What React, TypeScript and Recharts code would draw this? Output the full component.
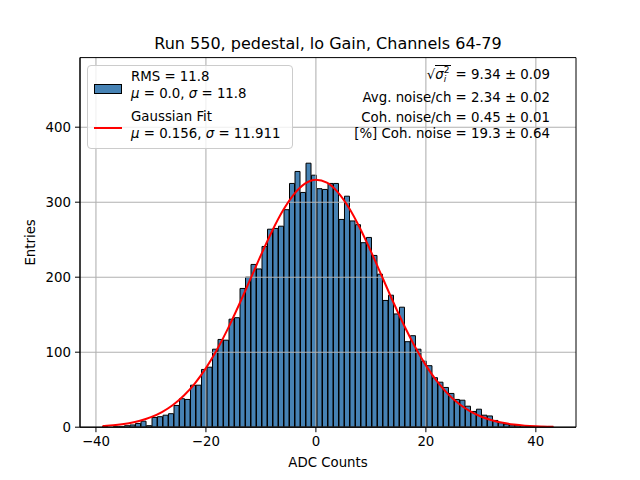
import React from 'react';
import { ComposedChart, Bar, Line, XAxis, YAxis, ReferenceLine, ReferenceArea, Label } from 'recharts';

// histogram: 1-count-wide bins starting at the data minimum
const BIN_START = -38.8;
const BIN_WIDTH = 1;
const counts = [
  1, 0, 1, 1, 2, 3, 5, 8, 2, 13,
  14, 16, 18, 29, 38, 37, 56, 56, 77, 80,
  104, 117, 116, 144, 146, 185, 200, 217, 211, 241,
  264, 265, 268, 290, 325, 341, 313, 352, 336, 318,
  317, 325, 325, 277, 308, 275, 270, 246, 253, 229,
  204, 169, 176, 151, 160, 114, 122, 104, 88, 82,
  66, 60, 53, 45, 37, 36, 28, 21, 24, 16,
  15, 9, 6, 4, 3, 2, 2, 1, 1, 0,
  1, 1,
];

// gaussian fit curve
const fitX = [
  -38.8, -38, -36, -34, -32, -30, -28, -26, -24, -22, -20,
  -18, -16, -14, -12, -10, -8, -6, -4, -2, 0,
  2, 4, 6, 8, 10, 12, 14, 16, 18, 20,
  22, 24, 26, 28, 30, 32, 34, 36, 38, 40, 42, 43.2,
];
const fitY = [
  1.6, 2.0, 3.3, 5.4, 8.6, 13.4, 20.2, 29.6, 42.2, 58.5, 78.8,
  103.3, 131.5, 162.9, 196.0, 229.4, 261.0, 288.8, 310.5, 324.7, 330.0,
  326.1, 313.2, 292.6, 265.7, 234.5, 201.3, 167.9, 136.2, 107.5, 82.4,
  61.4, 44.5, 31.3, 21.5, 14.3, 9.3, 5.8, 3.6, 2.1, 1.2, 0.7, 0.5,
];

const xTicks = [-40, -20, 0, 20, 40];
const yTicks = [0, 100, 200, 300, 400];
const X_DOMAIN: [number, number] = [-42.9, 47.3];
const Y_DOMAIN: [number, number] = [0, 492.8];

const TITLE = 'Run 550, pedestal, lo Gain, Channels 64-79';

const histData = counts.map((c, i) => ({ x: BIN_START + (i + 0.5) * BIN_WIDTH, count: c }));
const fitData = fitX.map((x, i) => ({ x, fit: fitY[i] }));

const FONT = '"DejaVu Sans", sans-serif';
const GRID = '#b0b0b0';
const minus = (v: number) => String(v).replace('-', '\u2212');

function StatLine({ top, children }: { top: number; children: React.ReactNode }) {
  return (
    <div style={{ position: 'absolute', right: 90, top, fontSize: 13.33, lineHeight: '16px', whiteSpace: 'nowrap' }}>
      {children}
    </div>
  );
}

export default function App() {
  return (
    <div style={{ position: 'absolute', left: 0, top: 0, width: 640, height: 480, background: '#fff', fontFamily: FONT, color: '#000' }}>
      <div style={{ position: 'absolute', left: 80, width: 496, top: 34, textAlign: 'center', fontSize: 16, lineHeight: '20px' }}>
        {TITLE}
      </div>

      <ComposedChart
        width={640}
        height={480}
        data={histData}
        barCategoryGap={0}
        barGap={0}
        margin={{ top: 57.6, right: 64, bottom: 0, left: 0 }}
      >
        <Bar dataKey="count" fill="#4682b4" stroke="#000" strokeWidth={1} isAnimationActive={false} />
        {xTicks.map(t => (
          <ReferenceLine key={'gx' + t} x={t} stroke={GRID} strokeWidth={1.07} zIndex={350} />
        ))}
        {yTicks.map(t => (
          <ReferenceLine key={'gy' + t} y={t} stroke={GRID} strokeWidth={1.07} zIndex={350} />
        ))}
        <Line xAxisId="fit" data={fitData} dataKey="fit" type="monotone" stroke="#ff0000" strokeWidth={2} dot={false} isAnimationActive={false} />
        <ReferenceArea x1={X_DOMAIN[0]} x2={X_DOMAIN[1]} y1={Y_DOMAIN[0]} y2={Y_DOMAIN[1]} fill="none" stroke="#000" strokeWidth={1} fillOpacity={0} zIndex={900} />
        <XAxis
          type="number"
          dataKey="x"
          domain={X_DOMAIN}
          ticks={xTicks}
          allowDataOverflow
          height={52.8}
          tickSize={5}
          tickMargin={4}
          tickFormatter={minus}
          tick={{ fill: '#000', fontSize: 13.33, fontFamily: FONT }}
          tickLine={{ stroke: '#000' }}
          axisLine={{ stroke: '#000' }}
        >
          <Label value="ADC Counts" position="insideBottom" offset={13} style={{ fill: '#000', fontSize: 13.33, fontFamily: FONT }} />
        </XAxis>
        <XAxis xAxisId="fit" type="number" dataKey="x" domain={X_DOMAIN} allowDataOverflow hide />
        <YAxis
          type="number"
          domain={Y_DOMAIN}
          ticks={yTicks}
          allowDataOverflow
          width={80}
          tickSize={5}
          tickMargin={4}
          tick={{ fill: '#000', fontSize: 13.33, fontFamily: FONT }}
          tickLine={{ stroke: '#000' }}
          axisLine={{ stroke: '#000' }}
        >
          <Label
            content={(props: any) => {
              const vb = props.viewBox || { y: 57.6, height: 369.6 };
              const cy = vb.y + vb.height / 2;
              return (
                <text x={31} y={cy} transform={`rotate(-90 31 ${cy})`} textAnchor="middle" dominantBaseline="central" fontSize={13.33} fontFamily={FONT} fill="#000">
                  Entries
                </text>
              );
            }}
          />
        </YAxis>
      </ComposedChart>

      {/* legend */}
      <div style={{ position: 'absolute', left: 87, top: 65, width: 204, height: 82, border: '1px solid #cccccc', borderRadius: 4, background: 'rgba(255,255,255,0.8)', fontSize: 13.33, lineHeight: '17px' }}>
        <div style={{ position: 'absolute', left: 6, top: 18, width: 26, height: 8, background: '#4682b4', border: '1px solid #000' }} />
        <div style={{ position: 'absolute', left: 43, top: 2, whiteSpace: 'nowrap' }}>
          <div>RMS = 11.8</div>
          <div><i>μ</i> = 0.0, <i>σ</i> = 11.8</div>
        </div>
        <div style={{ position: 'absolute', left: 6, top: 61, width: 28, height: 2, background: '#ff0000' }} />
        <div style={{ position: 'absolute', left: 43, top: 42, whiteSpace: 'nowrap' }}>
          <div>Gaussian Fit</div>
          <div><i>μ</i> = 0.156, <i>σ</i> = 11.911</div>
        </div>
      </div>

      {/* stats box */}
      <StatLine top={66}>
        <span>√</span>
        <span style={{ borderTop: '1px solid #000', paddingTop: 1, paddingRight: 2 }}>
          <i>σ</i>
          <span style={{ display: 'inline-flex', flexDirection: 'column', fontSize: 9, lineHeight: '9px', verticalAlign: 'middle' }}>
            <span>2</span>
            <i>i</i>
          </span>
        </span>
        <span> = 9.34 ± 0.09</span>
      </StatLine>
      <StatLine top={89.5}>Avg. noise/ch = 2.34 ± 0.02</StatLine>
      <StatLine top={109.5}>Coh. noise/ch = 0.45 ± 0.01</StatLine>
      <StatLine top={126}>[%] Coh. noise = 19.3 ± 0.64</StatLine>
    </div>
  );
}
